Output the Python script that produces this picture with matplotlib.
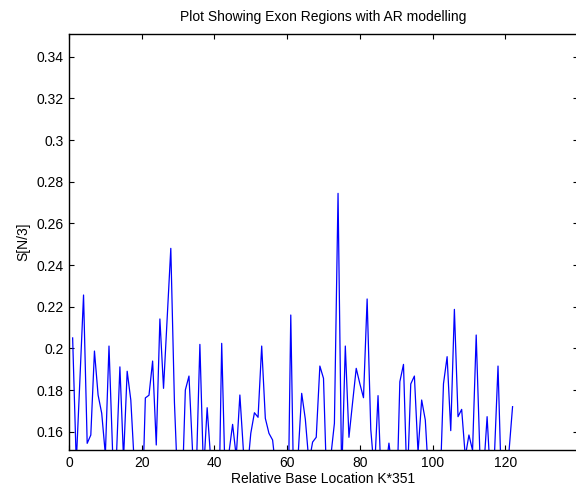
import numpy as np
import matplotlib
matplotlib.use("Agg")
import matplotlib.pyplot as plt

plt.rcParams["font.family"] = ["Liberation Sans", "DejaVu Sans"]

# S[N/3] per relative base location (values below the
# visible floor are estimates, the plot clips them)
loc = np.arange(1, 123)
s_n3 = [
    0.205, 0.145, 0.185, 0.2256, 0.1544, 0.1584, 0.1987, 0.1776, 0.1688, 0.149,
    0.2011, 0.150, 0.146, 0.1911, 0.147, 0.189, 0.1752, 0.143, 0.130, 0.115,
    0.1762, 0.1775, 0.1939, 0.1536, 0.2141, 0.1808, 0.2144, 0.248, 0.174, 0.130,
    0.124, 0.180, 0.1867, 0.150, 0.140, 0.2019, 0.140, 0.1715, 0.146, 0.130,
    0.100, 0.2024, 0.134, 0.150, 0.1635, 0.148, 0.1776, 0.150, 0.140, 0.1592,
    0.1691, 0.1669, 0.2011, 0.1664, 0.1592, 0.156, 0.140, 0.120, 0.110, 0.090,
    0.216, 0.110, 0.148, 0.1784, 0.166, 0.145, 0.155, 0.1573, 0.1915, 0.1856,
    0.128, 0.148, 0.164, 0.2744, 0.138, 0.2011, 0.1573, 0.174, 0.1904, 0.183,
    0.1763, 0.2237, 0.1612, 0.140, 0.1773, 0.130, 0.140, 0.1545, 0.140, 0.118,
    0.184, 0.1923, 0.133, 0.1829, 0.1867, 0.150, 0.1752, 0.1656, 0.135, 0.120,
    0.120, 0.130, 0.183, 0.196, 0.1605, 0.2187, 0.1672, 0.1707, 0.148, 0.1584,
    0.151, 0.2064, 0.150, 0.140, 0.1672, 0.135, 0.148, 0.1915, 0.130, 0.130,
    0.150, 0.172,
]
xticks = [0, 20, 40, 60, 80, 100, 120]
yticks = [0.16, 0.18, 0.20, 0.22, 0.24, 0.26, 0.28, 0.30, 0.32, 0.34]

fig = plt.figure(figsize=(5.76, 4.97), dpi=100)
# axes runs a little past the right edge, as in the cropped original
ax = fig.add_axes([69.0 / 576, 47 / 497, 509 / 576, 416 / 497])
ax.plot(loc, s_n3, color="#0000ff", lw=0.9)

ax.set_xlim(0, 140)
ax.set_ylim(0.1512, 0.3509)
ax.set_xticks(xticks)
ax.set_yticks(yticks)
ax.set_yticklabels([f"{v:g}" for v in yticks])
ax.tick_params(direction="in", length=3.6, width=0.8, top=True, right=True,
               labelsize=10, pad=4)
for sp in ax.spines.values():
    sp.set_linewidth(1.0)
ax.spines["right"].set_visible(False)

ax.set_title("Plot Showing Exon Regions with AR modelling", fontsize=10, pad=9)
ax.set_xlabel("Relative Base Location K*351", fontsize=10, labelpad=2)
ax.set_ylabel("S[N/3]", fontsize=10, labelpad=4)

fig.savefig("out.png", dpi=100)
